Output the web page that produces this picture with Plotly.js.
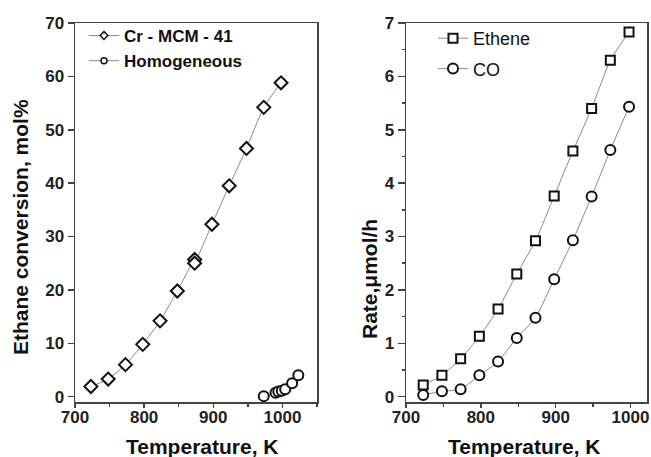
<!DOCTYPE html>
<html>
<head>
<meta charset="utf-8">
<script src="https://cdn.plot.ly/plotly-3.0.1.min.js"></script>
<style>html,body{margin:0;padding:0;background:#fff;}#chart{width:651px;height:457px;}</style>
</head>
<body>
<div id="chart"></div>
<script>
// Left panel: ethane conversion
const tempCr = [723, 748, 773, 798, 823, 848, 873, 873, 898, 923, 948, 973, 998];
const convCr = [1.9, 3.3, 6.0, 9.8, 14.2, 19.8, 25.7, 25.0, 32.3, 39.5, 46.5, 54.2, 58.8];
const tempHom = [973, 990, 994, 999, 1004, 1014, 1023];
const convHom = [0.1, 0.75, 0.95, 1.1, 1.4, 2.5, 4.0];
// Right panel: rates
const tempRate = [723, 748, 773, 798, 823, 848, 873, 898, 923, 948, 973, 998];
const rateEthene = [0.22, 0.40, 0.71, 1.13, 1.64, 2.30, 2.92, 3.76, 4.60, 5.40, 6.30, 6.83];
const rateCO = [0.03, 0.10, 0.14, 0.40, 0.66, 1.10, 1.48, 2.20, 2.93, 3.75, 4.62, 5.43];
// Tick labels
const xTicks = [700, 800, 900, 1000];
const yTicksLeft = [0, 10, 20, 30, 40, 50, 60, 70];
const yTicksRight = [0, 1, 2, 3, 4, 5, 6, 7];

const FONT = 'Liberation Sans, Arial, sans-serif';
const lineGray = '#8a8a8a';
const mk = (sym, size) => ({symbol: sym, size: size, color: '#ffffff', line: {color: '#111', width: 2}});
const bold = arr => arr.map(v => '<b>' + v + '</b>');

const traces = [
  {x: tempCr, y: convCr, xaxis: 'x', yaxis: 'y', mode: 'lines+markers', showlegend: false,
   line: {color: lineGray, width: 1, shape: 'spline', smoothing: 0.6}, marker: mk('diamond', 10)},
  {x: tempHom, y: convHom, xaxis: 'x', yaxis: 'y', mode: 'lines+markers', showlegend: false,
   line: {color: lineGray, width: 1, shape: 'spline', smoothing: 0.6}, marker: mk('circle', 10)},
  {x: [null], y: [null], xaxis: 'x', yaxis: 'y', name: '<b>Cr - MCM - 41</b>', legend: 'legend', legendgroup: 'a',
   mode: 'lines+markers', line: {color: lineGray, width: 1}, marker: {symbol: 'diamond', size: 6, color: '#fff', line: {color: '#111', width: 1.5}}},
  {x: [null], y: [null], xaxis: 'x', yaxis: 'y', name: '<b>Homogeneous</b>', legend: 'legend', legendgroup: 'b',
   mode: 'lines+markers', line: {color: lineGray, width: 1}, marker: {symbol: 'circle', size: 6, color: '#fff', line: {color: '#111', width: 1.5}}},
  {x: tempRate, y: rateEthene, xaxis: 'x2', yaxis: 'y2', name: 'Ethene', legend: 'legend2', legendgroup: 'c',
   mode: 'lines+markers', line: {color: lineGray, width: 1, shape: 'spline', smoothing: 0.6}, marker: mk('square', 9)},
  {x: tempRate, y: rateCO, xaxis: 'x2', yaxis: 'y2', name: 'CO', legend: 'legend2', legendgroup: 'd',
   mode: 'lines+markers', line: {color: lineGray, width: 1, shape: 'spline', smoothing: 0.6}, marker: mk('circle', 10)}
];

const axisBase = {
  showline: true, linecolor: '#444', linewidth: 1.5, mirror: true, showgrid: false, zeroline: false,
  ticks: 'outside', ticklen: 5, tickwidth: 1.5, tickcolor: '#444',
  tickfont: {family: FONT, size: 17, color: '#222'}
};
const minorX = vals => ({tickvals: vals, ticks: 'outside', ticklen: 3, tickcolor: '#444', tickwidth: 1.5});

const L = 75, R = 4, T = 23, B = 55, W = 651, H = 457;
const pw = W - L - R, ph = H - T - B;
const px = v => (v - L) / pw;
const py = v => (H - B - v) / ph;
const titleFont = {family: FONT, size: 21, color: '#111'};

const layout = {
  width: W, height: H,
  margin: {l: L, r: R, t: T, b: B},
  paper_bgcolor: '#fff', plot_bgcolor: '#fff',
  font: {family: FONT, color: '#222'},
  xaxis: Object.assign({}, axisBase, {domain: [0, px(317)], range: [700, 1050], tickvals: xTicks, ticktext: bold(xTicks),
    ticklen: 4, ticklabelstandoff: -5, minor: minorX([750, 850, 950, 1050])}),
  yaxis: Object.assign({}, axisBase, {range: [-1, 70], tickvals: yTicksLeft, ticktext: bold(yTicksLeft), ticklen: 6}),
  xaxis2: Object.assign({}, axisBase, {domain: [px(406), 1], range: [700, 1022], tickvals: xTicks, ticktext: bold(xTicks),
    ticklen: 4, ticklabelstandoff: -5, minor: minorX([750, 850, 950]), anchor: 'y2'}),
  yaxis2: Object.assign({}, axisBase, {range: [-0.1, 7], tickvals: yTicksRight, ticktext: bold(yTicksRight), anchor: 'x2', ticklen: 7,
    minor: minorX([0.5, 1.5, 2.5, 3.5, 4.5, 5.5, 6.5])}),
  legend: {x: px(84), y: py(18), xanchor: 'left', yanchor: 'top', bgcolor: 'rgba(0,0,0,0)', borderwidth: 0,
    font: {family: FONT, size: 17, color: '#111'}, traceorder: 'grouped', tracegroupgap: 0},
  legend2: {x: px(433), y: py(20), xanchor: 'left', yanchor: 'top', bgcolor: 'rgba(0,0,0,0)', borderwidth: 0,
    font: {family: FONT, size: 18, color: '#111'}, traceorder: 'grouped', tracegroupgap: 4},
  annotations: [
    {text: '<b>Ethane conversion, mol%</b>', xref: 'paper', yref: 'paper', x: px(20), y: py(227), textangle: -90,
     xanchor: 'center', yanchor: 'middle', showarrow: false, font: titleFont},
    {text: '<b>Rate,\u03bcmol/h</b>', xref: 'paper', yref: 'paper', x: px(369), y: py(279), textangle: -90,
     xanchor: 'center', yanchor: 'middle', showarrow: false, font: titleFont},
    {text: '<b>Temperature, K</b>', xref: 'paper', yref: 'paper', x: px(202), y: py(446),
     xanchor: 'center', yanchor: 'middle', showarrow: false, font: titleFont},
    {text: '<b>Temperature, K</b>', xref: 'paper', yref: 'paper', x: px(524), y: py(446),
     xanchor: 'center', yanchor: 'middle', showarrow: false, font: titleFont}
  ]
};

Plotly.newPlot('chart', traces, layout, {displayModeBar: false, staticPlot: true});
</script>
</body>
</html>
